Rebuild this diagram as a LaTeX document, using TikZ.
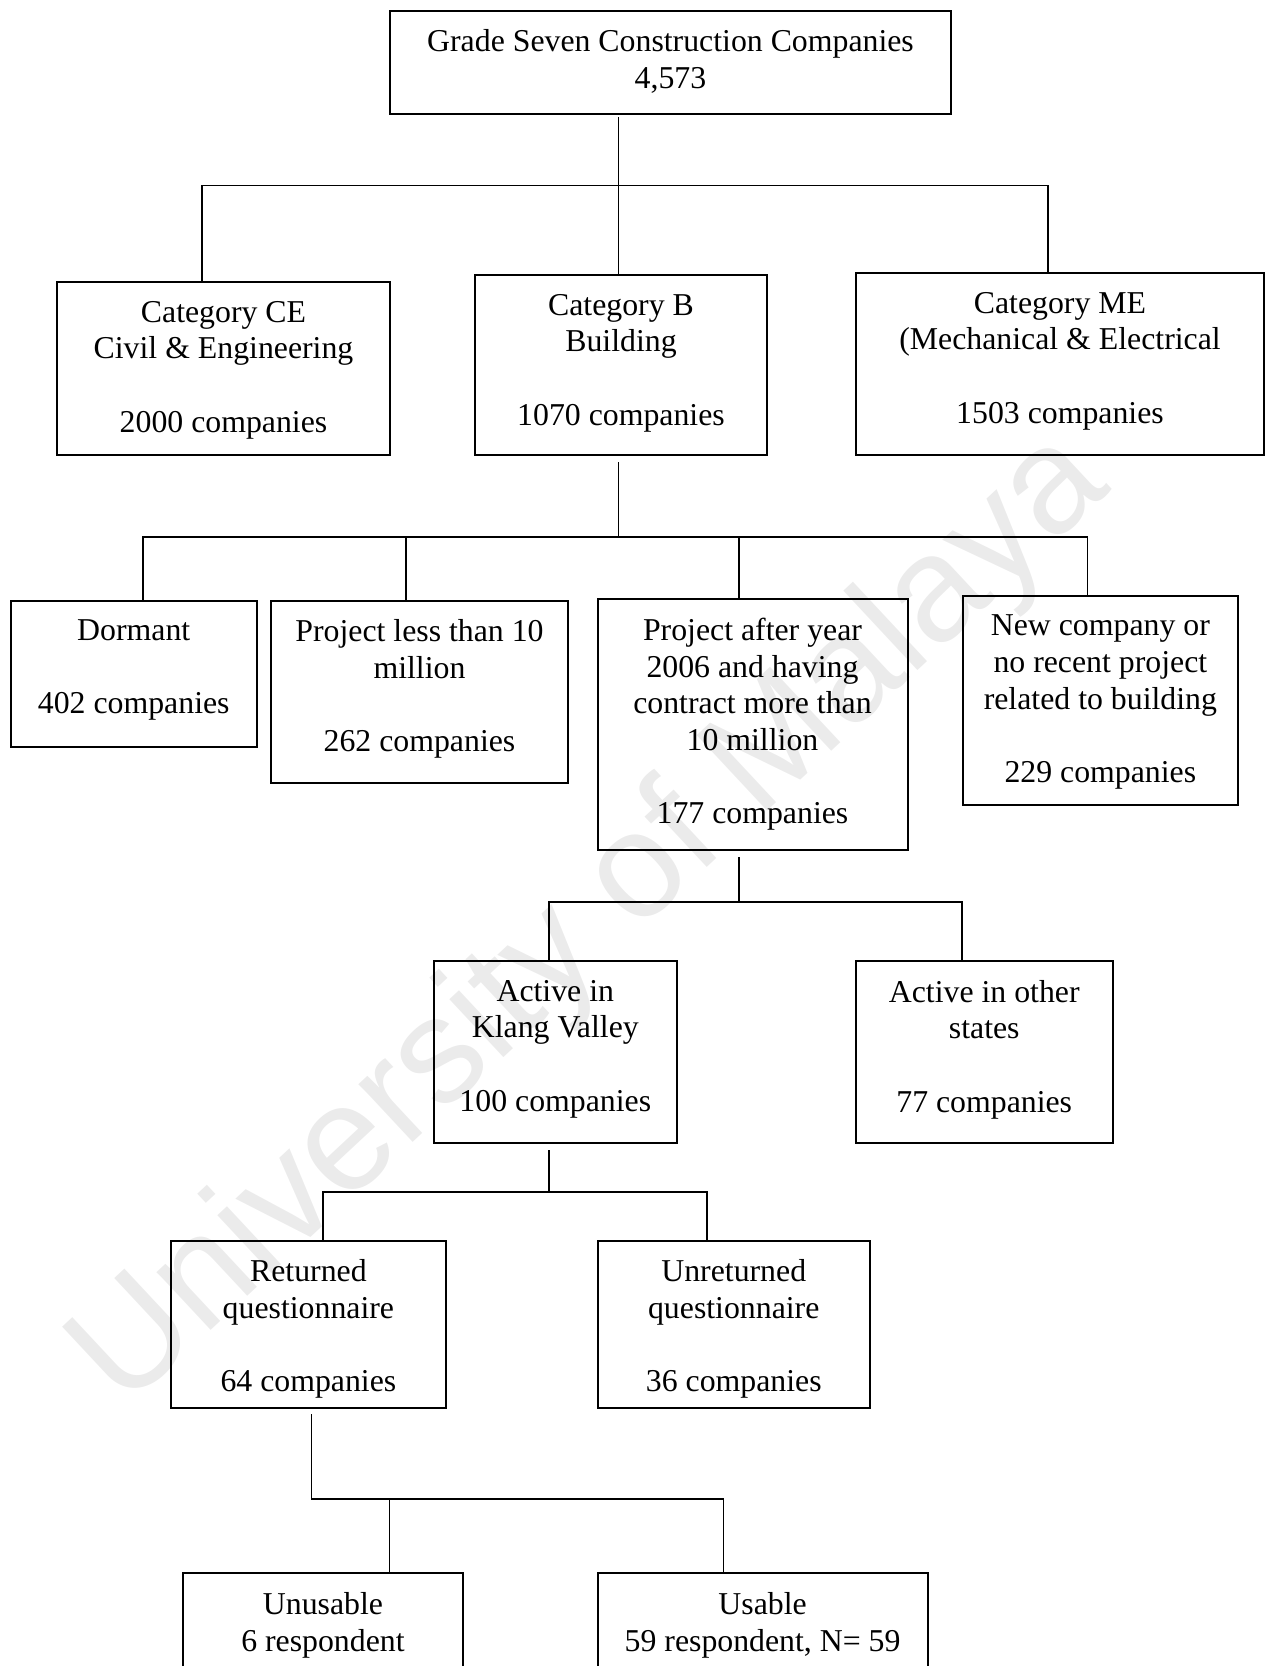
\documentclass[tikz,border=0pt]{standalone}
\usepackage{fontspec}
\setmainfont{Liberation Serif}
\newfontfamily\wmfont{Liberation Sans}
\begin{document}
\begin{tikzpicture}[x=1pt,y=-1pt,
  box/.style={draw, line width=2pt, inner sep=0pt, rectangle},
  txt/.style={anchor=north, align=center, inner sep=0pt,
    font=\fontsize{31.8}{36.7}\selectfont},
  conn/.style={line width=1.4pt},
  bar/.style={line width=1.8pt, line cap=rect},
  wm/.style={text=black!8, inner sep=0pt,
    font=\wmfont\fontsize{150}{155}\selectfont}]
\useasboundingbox (0,0) rectangle (1266,1666);
\clip (0,0) rectangle (1266,1666);

% faint background watermark
\node[wm, rotate=43] (wmark) at (592,922) {University of Malaya};

% boxes
\node[box, minimum width=561pt, minimum height=103.5pt] (top) at (670.5,62.25) {};
\node[box, minimum width=333pt, minimum height=173pt] (ce) at (223.5,368.5) {};
\node[box, minimum width=292pt, minimum height=180pt] (b) at (621,365) {};
\node[box, minimum width=408pt, minimum height=182pt] (me) at (1060,364) {};
\node[box, minimum width=246.5pt, minimum height=146pt] (dor) at (133.75,673.7) {};
\node[box, minimum width=297pt, minimum height=182.3pt] (pl) at (419.5,691.85) {};
\node[box, minimum width=310pt, minimum height=251pt] (pa) at (752.5,724.5) {};
\node[box, minimum width=275.3pt, minimum height=209pt] (nc) at (1100.35,700.5) {};
\node[box, minimum width=243.6pt, minimum height=182.4pt] (kv) at (555.3,1052.2) {};
\node[box, minimum width=256.5pt, minimum height=182.4pt] (os) at (984.25,1052.2) {};
\node[box, minimum width=274.7pt, minimum height=167.3pt] (ret) at (308.4,1324.35) {};
\node[box, minimum width=272.5pt, minimum height=167.3pt] (unr) at (733.75,1324.35) {};
\node[box, minimum width=280.9pt, minimum height=140pt] (unus) at (322.95,1643.3) {};
\node[box, minimum width=330.2pt, minimum height=140pt] (usab) at (762.6,1643.3) {};

% box texts
\node[txt] (top-t) at ([yshift=-19.8pt]top.north) {Grade Seven Construction Companies\\4,573};
\node[txt] (ce-t) at ([yshift=-19.8pt]ce.north) {Category CE\\Civil \& Engineering\\[36.7pt]2000 companies};
\node[txt] (b-t) at ([yshift=-19.8pt]b.north) {Category B\\Building\\[36.7pt]1070 companies};
\node[txt] (me-t) at ([yshift=-19.8pt]me.north) {Category ME\\(Mechanical \& Electrical\\[36.7pt]1503 companies};
\node[txt] (dor-t) at ([yshift=-19.8pt]dor.north) {Dormant\\[36.7pt]402 companies};
\node[txt] (pl-t) at ([yshift=-19.8pt]pl.north) {Project less than 10\\million\\[36.7pt]262 companies};
\node[txt] (pa-t) at ([yshift=-19.8pt]pa.north) {Project after year\\2006 and having\\contract more than\\10 million\\[36.7pt]177 companies};
\node[txt] (nc-t) at ([yshift=-19.8pt]nc.north) {New company or\\no recent project\\related to building\\[36.7pt]229 companies};
\node[txt] (kv-t) at ([yshift=-19.8pt]kv.north) {Active in\\Klang Valley\\[36.7pt]100 companies};
\node[txt] (os-t) at ([yshift=-19.8pt]os.north) {Active in other\\states\\[36.7pt]77 companies};
\node[txt] (ret-t) at ([yshift=-19.8pt]ret.north) {Returned\\questionnaire\\[36.7pt]64 companies};
\node[txt] (unr-t) at ([yshift=-19.8pt]unr.north) {Unreturned\\questionnaire\\[36.7pt]36 companies};
\node[txt] (unus-t) at ([yshift=-19.8pt]unus.north) {Unusable\\6 respondent};
\node[txt] (usab-t) at ([yshift=-19.8pt]usab.north) {Usable\\59 respondent, N= 59};

% junction points of the tree
\coordinate (j1) at (618.5,185.5);
\coordinate (j1l) at (202,185.5);
\coordinate (j1r) at (1048,185.5);
\coordinate (j2) at (618.5,537);
\coordinate (j2a) at (143,537);
\coordinate (j2b) at (406,537);
\coordinate (j2c) at (739,537);
\coordinate (j2d) at (1087.5,537);
\coordinate (j3) at (739,902);
\coordinate (j3a) at (549,902);
\coordinate (j3b) at (962,902);
\coordinate (j4) at (549,1191.7);
\coordinate (j4a) at (323,1191.7);
\coordinate (j4b) at (707,1191.7);
\coordinate (j5) at (311.7,1499);
\coordinate (j5a) at (389.5,1499);
\coordinate (j5b) at (723.4,1499);

% level 1
\draw[conn, shorten <=2pt] (top.south -| j1) -- (b.north -| j1);
\draw[bar] (j1l) -- (j1r);
\draw[conn] (j1l) -- (ce.north -| j1l);
\draw[conn] (j1r) -- (me.north -| j1r);

% level 2
\draw[conn, shorten <=6pt] (b.south -| j2) -- (j2);
\draw[bar] (j2a) -- (j2d);
\draw[conn] (j2a) -- (dor.north -| j2a);
\draw[conn] (j2b) -- (pl.north -| j2b);
\draw[conn] (j2c) -- (pa.north -| j2c);
\draw[conn] (j2d) -- (nc.north -| j2d);

% level 3
\draw[conn, shorten <=6pt] (pa.south -| j3) -- (j3);
\draw[bar] (j3a) -- (j3b);
\draw[conn] (j3a) -- (kv.north -| j3a);
\draw[conn] (j3b) -- (os.north -| j3b);

% level 4
\draw[conn, shorten <=6pt] (kv.south -| j4) -- (j4);
\draw[bar] (j4a) -- (j4b);
\draw[conn] (j4a) -- (ret.north -| j4a);
\draw[conn] (j4b) -- (unr.north -| j4b);

% level 5
\draw[conn, shorten <=5pt] (ret.south -| j5) -- (j5);
\draw[bar] (j5) -- (j5b);
\draw[conn] (j5a) -- (unus.north -| j5a);
\draw[conn] (j5b) -- (usab.north -| j5b);
\end{tikzpicture}
\end{document}
